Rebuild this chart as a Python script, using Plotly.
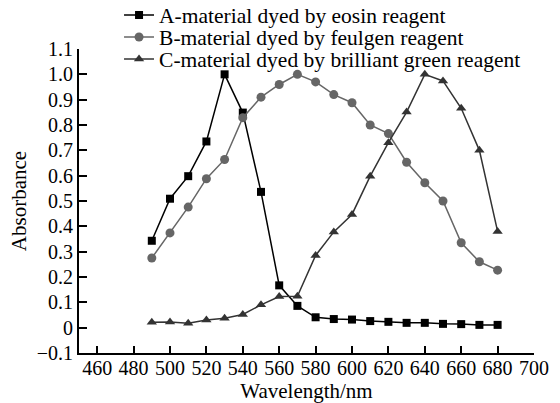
import plotly.graph_objects as go

wavelength = [490, 500, 510, 520, 530, 540, 550, 560, 570, 580, 590, 600, 610, 620, 630, 640, 650, 660, 670, 680]
a_eosin = [0.343, 0.509, 0.598, 0.735, 1.0, 0.849, 0.536, 0.167, 0.086, 0.041, 0.034, 0.032, 0.026, 0.023, 0.019, 0.019, 0.015, 0.014, 0.011, 0.011]
b_feulgen = [0.275, 0.374, 0.476, 0.588, 0.664, 0.829, 0.91, 0.96, 1.0, 0.97, 0.92, 0.888, 0.80, 0.766, 0.653, 0.572, 0.50, 0.335, 0.26, 0.227]
c_green = [0.021, 0.022, 0.017, 0.03, 0.037, 0.052, 0.09, 0.123, 0.124, 0.285, 0.378, 0.447, 0.598, 0.73, 0.851, 1.0, 0.974, 0.866, 0.70, 0.38]

names = ["A-material dyed by eosin reagent",
         "B-material dyed by feulgen reagent",
         "C-material dyed by brilliant green reagent"]
y_ticks = [-0.1, 0, 0.1, 0.2, 0.3, 0.4, 0.5, 0.6, 0.7, 0.8, 0.9, 1.0, 1.1]
y_ticktext = ["\u22120.1", "0", "0.1", "0.2", "0.3", "0.4", "0.5", "0.6", "0.7", "0.8", "0.9", "1.0", "1.1"]
x_ticks = list(range(460, 701, 20))

font = "Liberation Serif"

fig = go.Figure()
fig.add_trace(go.Scatter(x=wavelength, y=a_eosin, name=names[0], mode="lines+markers", legend="legend",
                         line=dict(color="#000000", width=1.5),
                         marker=dict(symbol="square", size=8, color="#000000")))
fig.add_trace(go.Scatter(x=wavelength, y=b_feulgen, name=names[1], mode="lines+markers", legend="legend2",
                         line=dict(color="#666666", width=1.5),
                         marker=dict(symbol="circle", size=9, color="#666666")))
fig.add_trace(go.Scatter(x=wavelength, y=c_green, name=names[2], mode="lines+markers", legend="legend3",
                         line=dict(color="#333333", width=1.5),
                         marker=dict(symbol="triangle-up", size=9, color="#333333")))

leg_common = dict(xanchor="left", yanchor="middle", bgcolor="rgba(0,0,0,0)",
                  font=dict(size=21.5, family=font), itemwidth=30, borderwidth=0)
# legend rows centered at y ~ 15, 37, 59 px; plot top at 49 px, plot height 304 px
fig.update_layout(
    width=560, height=403,
    margin=dict(l=79, r=26, t=49, b=50, autoexpand=False),
    paper_bgcolor="white", plot_bgcolor="white",
    font=dict(family=font, size=20, color="black"),
    showlegend=True,
    legend=dict(x=0.088, y=1 + (49 - 15) / 304, **leg_common),
    legend2=dict(x=0.088, y=1 + (49 - 37) / 304, **leg_common),
    legend3=dict(x=0.088, y=1 + (49 - 59) / 304, **leg_common),
    xaxis=dict(range=[450, 700], tickvals=x_ticks, ticks="inside", ticklen=7,
               showline=True, linecolor="black", linewidth=2, tickcolor="black", tickwidth=1.5,
               showgrid=False, zeroline=False, ticklabelstandoff=-4,
               title=dict(text="Wavelength/nm", standoff=0, font=dict(size=21))),
    yaxis=dict(range=[-0.1, 1.1], tickvals=y_ticks, ticktext=y_ticktext, ticks="inside", ticklen=8,
               showline=True, linecolor="black", linewidth=2, tickcolor="black", tickwidth=1.5,
               showgrid=False, zeroline=False,
               title=dict(text="Absorbance", standoff=4, font=dict(size=21))),
)

fig.write_html("out.html")
